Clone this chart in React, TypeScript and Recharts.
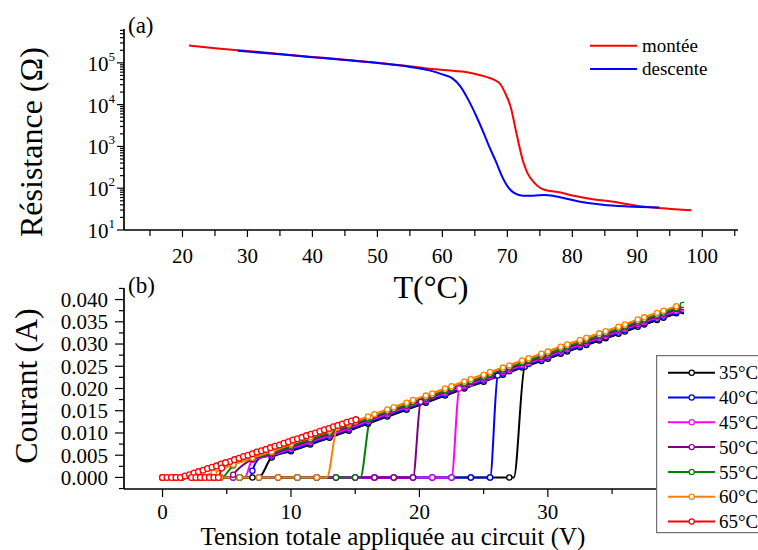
import { LineChart, Line, XAxis, YAxis, Legend } from 'recharts'

const SERIF = '"Liberation Serif", "Times New Roman", serif'
const serif = { fontFamily: SERIF }

// ---- (a) resistance vs temperature ----
const monteeT = [21, 25, 30, 35, 40, 45, 50, 55, 58, 62, 64, 66, 67, 68, 69, 69.6, 70.5, 71.5, 72.5, 73.1, 74.1, 75.7, 78.2, 80.2, 83.4, 86, 90.5, 94, 98.3]
const monteeR = [260000, 225000, 192000, 163000, 139000, 119000, 101000, 83000, 72000, 64000, 59000, 50000, 45000, 39000, 30000, 20000, 8900, 1750, 400, 230, 138, 92, 79, 66, 54, 48, 37, 33, 29.5]
const descenteT = [28.5, 35, 40, 45, 50, 55, 58, 60, 61.5, 62.8, 64, 65.3, 66.3, 67.2, 68.2, 69.2, 70.2, 71.1, 72.4, 74, 75.7, 77, 78.1, 80.8, 84.7, 88.5, 93.4]
const descenteR = [195000, 160000, 137000, 117000, 99000, 80000, 66000, 53000, 43000, 27000, 13000, 5000, 2200, 1000, 450, 190, 102, 76, 66, 66, 69, 66, 61, 49, 40, 36.5, 34.5]
const legendOrderA = ['montée', 'descente']

const tMajor = [20, 30, 40, 50, 60, 70, 80, 90, 100]
const tMinor = [15, 25, 35, 45, 55, 65, 75, 85, 95, 105]
const rMajor = [10, 100, 1000, 10000, 100000]
const rMinor = [20, 30, 40, 50, 60, 70, 80, 90, 200, 300, 400, 500, 600, 700, 800, 900, 2000, 3000, 4000, 5000, 6000, 7000, 8000, 9000, 20000, 30000, 40000, 50000, 60000, 70000, 80000, 90000, 200000, 300000, 400000, 500000, 600000]

// ---- (b) current vs applied voltage, up and down sweeps ----
// [V, I] points; a third value 0 marks a curve point that carries no marker
type Pt = number[]
const up35: Pt[] = [[0, 0], [1.5, 0], [3, 0], [4.5, 0], [6, 0], [7.5, 0], [9, 0], [10.5, 0], [12, 0], [13.5, 0], [15, 0], [16.5, 0], [18, 0], [19.5, 0], [21, 0], [22.5, 0], [24, 0], [25.5, 0], [27, 0], [27.35, 0, 0], [28.2, 0.0249], [30, 0.0267], [31.5, 0.0283], [33, 0.0298], [34.5, 0.0313], [36, 0.0328], [37.5, 0.0344], [39, 0.0359], [40.5, 0.0374]]
const down35: Pt[] = [[1, 0], [2.5, 0], [4, 0], [5.5, 0], [7, 0], [7.5, 0, 0], [8.5, 0.0045], [10, 0.0059], [11.5, 0.0074], [13, 0.0089], [14.5, 0.0105], [16, 0.0121], [17.5, 0.0137], [19, 0.0152], [20.5, 0.0168], [22, 0.0184], [23.5, 0.02], [25, 0.0215], [26.5, 0.0231], [28, 0.0247], [29.5, 0.0262], [31, 0.0278], [32.5, 0.0293], [34, 0.0308], [35.5, 0.0323], [37, 0.0339], [38.5, 0.0354], [40, 0.0369]]
const up40: Pt[] = [[0, 0], [1.5, 0], [3, 0], [4.5, 0], [6, 0], [7.5, 0], [9, 0], [10.5, 0], [12, 0], [13.5, 0], [15, 0], [16.5, 0], [18, 0], [19.5, 0], [21, 0], [22.5, 0], [24, 0], [25.5, 0], [26.1, 0.0229], [27, 0.0239], [28.5, 0.0255], [30, 0.027], [31.5, 0.0286], [33, 0.0301], [34.5, 0.0316], [36, 0.0331], [37.5, 0.0347], [39, 0.0362], [40.5, 0.0377]]
const down40: Pt[] = [[1, 0], [2.5, 0], [4, 0], [5.5, 0], [6.85, 0, 0], [7, 0.0015], [7.6, 0.0044, 0], [8.5, 0.0049], [10, 0.0062], [11.5, 0.0077], [13, 0.0092], [14.5, 0.0108], [16, 0.0124], [17.5, 0.014], [19, 0.0155], [20.5, 0.0171], [22, 0.0187], [23.5, 0.0203], [25, 0.0218], [26.5, 0.0234], [28, 0.025], [29.5, 0.0265], [31, 0.0281], [32.5, 0.0296], [34, 0.0311], [35.5, 0.0326], [37, 0.0342], [38.5, 0.0357], [40, 0.0372]]
const up45: Pt[] = [[0, 0], [1.5, 0], [3, 0], [4.5, 0], [6, 0], [7.5, 0], [9, 0], [10.5, 0], [12, 0], [13.5, 0], [15, 0], [16.5, 0], [18, 0], [19.5, 0], [21, 0], [22.5, 0], [23.1, 0.02], [24, 0.0211], [25.5, 0.0227], [27, 0.0242], [28.5, 0.0258], [30, 0.0273], [31.5, 0.0289], [33, 0.0304], [34.5, 0.0319], [36, 0.0334], [37.5, 0.035], [39, 0.0365], [40.5, 0.038]]
const down45: Pt[] = [[1, 0], [2.5, 0], [4, 0], [5.5, 0], [6.4, 0, 0], [7, 0.004], [8.5, 0.005], [10, 0.0065], [11.5, 0.008], [13, 0.0095], [14.5, 0.0111], [16, 0.0127], [17.5, 0.0143], [19, 0.0158], [20.5, 0.0174], [22, 0.019], [23.5, 0.0206], [25, 0.0221], [26.5, 0.0237], [28, 0.0253], [29.5, 0.0268], [31, 0.0284], [32.5, 0.0299], [34, 0.0314], [35.5, 0.0329], [37, 0.0345], [38.5, 0.036], [40, 0.0375]]
const up50: Pt[] = [[0, 0], [1.5, 0], [3, 0], [4.5, 0], [6, 0], [7.5, 0], [9, 0], [10.5, 0], [12, 0], [13.5, 0], [15, 0], [16.5, 0], [18, 0], [19.5, 0], [20.1, 0.017], [21, 0.0182], [22.5, 0.0198], [24, 0.0214], [25.5, 0.023], [27, 0.0245], [28.5, 0.0261], [30, 0.0276], [31.5, 0.0292], [33, 0.0307], [34.5, 0.0322], [36, 0.0337], [37.5, 0.0353], [39, 0.0368], [40.5, 0.0383]]
const down50: Pt[] = [[1, 0], [2.5, 0], [4, 0], [5.35, 0, 0], [5.5, 0.0006], [7, 0.0041], [8.5, 0.0052], [10, 0.0068], [11.5, 0.0083], [13, 0.0098], [14.5, 0.0114], [16, 0.013], [17.5, 0.0146], [19, 0.0161], [20.5, 0.0177], [22, 0.0193], [23.5, 0.0209], [25, 0.0224], [26.5, 0.024], [28, 0.0256], [29.5, 0.0271], [31, 0.0287], [32.5, 0.0302], [34, 0.0317], [35.5, 0.0332], [37, 0.0348], [38.5, 0.0363], [40, 0.0378]]
const up55: Pt[] = [[0, 0], [1.5, 0], [3, 0], [4.5, 0], [6, 0], [7.5, 0], [9, 0], [10.5, 0], [12, 0], [13.5, 0], [15, 0], [15.4, 0, 0], [16.2, 0.0135], [18, 0.0154], [19.5, 0.017], [21, 0.0185], [22.5, 0.0201], [24, 0.0217], [25.5, 0.0233], [27, 0.0248], [28.5, 0.0264], [30, 0.0279], [31.5, 0.0295], [33, 0.031], [34.5, 0.0325], [36, 0.034], [37.5, 0.0356], [39, 0.0371], [40.5, 0.0388]]
const down55: Pt[] = [[1, 0], [2.5, 0], [4, 0], [4.6, 0, 0], [5.5, 0.0027], [7, 0.0043], [8.5, 0.0055], [10, 0.0071], [11.5, 0.0086], [13, 0.0101], [14.5, 0.0117], [16, 0.0133], [17.5, 0.0149], [19, 0.0164], [20.5, 0.018], [22, 0.0196], [23.5, 0.0212], [25, 0.0227], [26.5, 0.0243], [28, 0.0259], [29.5, 0.0274], [31, 0.029], [32.5, 0.0305], [34, 0.032], [35.5, 0.0335], [37, 0.0351], [38.5, 0.0366], [40, 0.0381]]
const up60: Pt[] = [[0, 0], [1.5, 0], [3, 0], [4.5, 0], [6, 0], [7.5, 0], [9, 0], [10.5, 0], [12, 0], [12.8, 0, 0], [13.6, 0.0112], [15, 0.0126], [16.5, 0.0142], [18, 0.0158], [19.5, 0.0174], [21, 0.0189], [22.5, 0.0205], [24, 0.0221], [25.5, 0.0237], [27, 0.0252], [28.5, 0.0268], [30, 0.0283], [31.5, 0.0299], [33, 0.0314], [34.5, 0.0329], [36, 0.0344], [37.5, 0.036], [39, 0.0375]]
const down60: Pt[] = [[1, 0], [2.5, 0], [4, 0.0011], [5.5, 0.0029], [7, 0.0044], [8.5, 0.0058], [10, 0.0075], [11.5, 0.009], [13, 0.0105], [14.5, 0.0121], [16, 0.0137], [17.5, 0.0153], [19, 0.0168], [20.5, 0.0184], [22, 0.02], [23.5, 0.0216], [25, 0.0231], [26.5, 0.0247], [28, 0.0263], [29.5, 0.0278], [31, 0.0294], [32.5, 0.0309], [34, 0.0324], [35.5, 0.0339], [37, 0.0355], [38.5, 0.037], [40, 0.0385]]
const up65: Pt[] = [[2.25, 0], [2.6, 0], [2.95, 0], [3.3, 0], [3.65, 0], [4, 0], [4.35, 0], [4.6, 0.0021], [4.9, 0.0033]]
const down65: Pt[] = [[0, 0], [0.35, 0], [0.7, 0], [1.05, 0], [1.4, 0], [1.75, 0.0003], [2.1, 0.0006], [2.45, 0.001], [2.8, 0.0013], [3.15, 0.0016], [3.5, 0.002], [3.85, 0.0023], [4.2, 0.0026], [4.55, 0.003], [4.9, 0.0033], [5.25, 0.0036], [5.6, 0.004], [5.95, 0.0043], [6.3, 0.0047], [6.65, 0.005], [7, 0.0053], [7.35, 0.0057], [7.7, 0.006], [8.05, 0.0063], [8.4, 0.0067], [8.75, 0.007], [9.1, 0.0073], [9.45, 0.0077], [9.8, 0.008], [10.15, 0.0084], [10.5, 0.0087], [10.85, 0.009], [11.2, 0.0094], [11.55, 0.0097], [11.9, 0.01], [12.25, 0.0104], [12.6, 0.0107], [12.95, 0.011], [13.3, 0.0114], [13.65, 0.0117], [14, 0.012], [14.35, 0.0124], [14.7, 0.0127], [15.05, 0.013]]

const vMajor = [0, 10, 20, 30, 40]
const vMinor = [5, 15, 25, 35]
const iMajor = [0, 0.005, 0.01, 0.015, 0.02, 0.025, 0.03, 0.035, 0.04]
const iMinor = [-0.0025, 0.0025, 0.0075, 0.0125, 0.0175, 0.0225, 0.0275, 0.0325, 0.0375, 0.0425]

const seriesB = [
  { name: '35°C', color: '#000000', up: up35, down: down35 },
  { name: '40°C', color: '#0000ff', up: up40, down: down40 },
  { name: '45°C', color: '#ff00ff', up: up45, down: down45 },
  { name: '50°C', color: '#800080', up: up50, down: down50 },
  { name: '55°C', color: '#008000', up: up55, down: down55 },
  { name: '60°C', color: '#ff8000', up: up60, down: down60 },
  { name: '65°C', color: '#ff0000', up: up65, down: down65 },
]

const pts = (a: Pt[]) => a.map(([x, y, m]) => ({ x, y, m }))
const zip = (xs: number[], ys: number[]) => xs.map((x, i) => ({ x, y: ys[i] }))

const axisStyle = { stroke: '#000', strokeWidth: 1.7 }

const mkDot = (color: string, r: number) => (p: any) => {
  const k = `${p.index}-${p.cx}`
  if (p.payload && p.payload.m === 0) return <g key={k} />
  return <circle key={k} cx={p.cx} cy={p.cy} r={r} fill="#fff" stroke={color} strokeWidth={1.3} />
}

const logTick = (p: any) => {
  const v = p.payload.value
  const major = rMajor.includes(v)
  return (
    <g>
      <line x1={p.x} y1={p.y} x2={p.x - (major ? 7 : 4)} y2={p.y} stroke="#000" strokeWidth={1.2} />
      {major && (
        <text x={p.x - 9} y={p.y + 8} textAnchor="end" style={serif} fontSize={21} fill="#000">
          10<tspan dy={-10} fontSize={13}>{Math.round(Math.log10(v))}</tspan>
        </text>
      )}
    </g>
  )
}

const tTick = (p: any) => {
  const v = p.payload.value
  const major = tMajor.includes(v)
  return (
    <g>
      <line x1={p.x} y1={p.y} x2={p.x} y2={p.y + (major ? 7 : 6)} stroke="#000" strokeWidth={1.2} />
      {major && (
        <text x={p.x} y={p.y + 33} textAnchor="middle" style={serif} fontSize={21} fill="#000">{v}</text>
      )}
    </g>
  )
}

const vTick = (p: any) => {
  const v = p.payload.value
  const major = vMajor.includes(v)
  return (
    <g>
      <line x1={p.x} y1={p.y} x2={p.x} y2={p.y + (major ? 8 : 5)} stroke="#000" strokeWidth={1.2} />
      {major && (
        <text x={p.x} y={p.y + 30} textAnchor="middle" style={serif} fontSize={21} fill="#000">{v}</text>
      )}
    </g>
  )
}

const iTick = (p: any) => {
  const v = p.payload.value
  const major = iMajor.includes(v)
  return (
    <g>
      <line x1={p.x} y1={p.y} x2={p.x - (major ? 9 : 5)} y2={p.y} stroke="#000" strokeWidth={1.2} />
      {major && (
        <text x={p.x - 16} y={p.y} dy="0.35em" textAnchor="end" style={serif} fontSize={21} fill="#000">
          {v.toFixed(3)}
        </text>
      )}
    </g>
  )
}

function LegendA({ payload }: any) {
  const items = (payload || [])
    .filter((p: any) => p.type !== 'none')
    .sort((a: any, b: any) => legendOrderA.indexOf(a.value) - legendOrderA.indexOf(b.value))
  return (
    <svg width={150} height={50} style={{ display: 'block' }}>
      {items.map((p: any, i: number) => {
        const y = 12.7 + i * 23.3
        return (
          <g key={p.value}>
            <line x1={5} x2={52} y1={y} y2={y} stroke={p.color} strokeWidth={2} />
            <text x={57} y={y} dy="0.33em" style={serif} fontSize={19} fill="#000">{p.value}</text>
          </g>
        )
      })}
    </svg>
  )
}

function LegendB({ payload }: any) {
  const names = seriesB.map((s) => s.name)
  const items = (payload || [])
    .filter((p: any) => p.type !== 'none')
    .sort((a: any, b: any) => names.indexOf(a.value) - names.indexOf(b.value))
  return (
    <svg width={102} height={180} style={{ display: 'block' }}>
      <rect x={0.6} y={0.6} width={120} height={177} fill="#fff" stroke="#707070" strokeWidth={1.2} />
      {items.map((p: any, i: number) => {
        const y = 17.7 + i * 24.8
        return (
          <g key={p.value}>
            <line x1={12} x2={59} y1={y} y2={y} stroke={p.color} strokeWidth={2} />
            <circle cx={35.7} cy={y} r={2.6} fill="#fff" stroke={p.color} strokeWidth={1.2} />
            <text x={63} y={y} dy="0.35em" style={serif} fontSize={19} fill="#000">{p.value}</text>
          </g>
        )
      })}
    </svg>
  )
}

export default function App() {
  return (
    <div style={{ position: 'absolute', left: 0, top: 0, width: 758, height: 550, background: '#fff', overflow: 'hidden', fontFamily: SERIF }}>
      <div style={{ position: 'absolute', left: 0, top: 0 }}>
        <LineChart width={758} height={300} margin={{ top: 29, right: 20, bottom: 0, left: 0 }}>
          <XAxis type="number" dataKey="x" domain={[11, 105.5]} allowDataOverflow ticks={[...tMinor, ...tMajor]}
            interval={0} tickSize={0} tickMargin={0} tickLine={false} tick={tTick} axisLine={axisStyle} height={70} />
          <YAxis type="number" dataKey="y" scale="log" domain={[10, 646000]} allowDataOverflow ticks={[...rMinor, ...rMajor]}
            interval={0} tickSize={0} tickMargin={0} tickLine={false} tick={logTick} axisLine={axisStyle} width={124} />
          <Legend layout="vertical" align="center" verticalAlign="middle" content={<LegendA />}
            wrapperStyle={{ left: 585, top: 33, width: 150, height: 50 }} />
          <Line name="montée" data={zip(monteeT, monteeR)} dataKey="y" type="monotone" stroke="#ff0000" strokeWidth={2}
            dot={false} isAnimationActive={false} />
          <Line name="descente" data={zip(descenteT, descenteR)} dataKey="y" type="monotone" stroke="#0000ff" strokeWidth={2}
            dot={false} isAnimationActive={false} />
        </LineChart>
      </div>
      <div style={{ position: 'absolute', left: 0, top: 270 }}>
        <LineChart width={758} height={280} margin={{ top: 18, right: 74, bottom: 0, left: 0 }}>
          <XAxis type="number" dataKey="x" domain={[-3, 40.6]} allowDataOverflow ticks={[...vMinor, ...vMajor]}
            interval={0} tickSize={0} tickMargin={0} tickLine={false} tick={vTick} axisLine={axisStyle} height={61} />
          <YAxis type="number" dataKey="y" domain={[-0.0026, 0.0426]} allowDataOverflow ticks={[...iMinor, ...iMajor]}
            interval={0} tickSize={0} tickMargin={0} tickLine={false} tick={iTick} axisLine={axisStyle} width={124} />
          {seriesB.flatMap((s) => {
            const r = s.name === '65°C' ? 2.9 : 2.6
            return [
              <Line key={s.name + '-down'} name={s.name + ' descente'} legendType="none" data={pts(s.down)} dataKey="y"
                type="monotone" stroke={s.color} strokeWidth={2} dot={mkDot(s.color, r)} activeDot={false}
                isAnimationActive={false} />,
              <Line key={s.name + '-up'} name={s.name} data={pts(s.up)} dataKey="y"
                type="monotone" stroke={s.color} strokeWidth={2} dot={mkDot(s.color, r)} activeDot={false}
                isAnimationActive={false} />,
            ]
          })}
          <Legend layout="vertical" align="center" verticalAlign="middle" content={<LegendB />}
            wrapperStyle={{ left: 656, top: 85, width: 102, height: 180 }} />
        </LineChart>
      </div>
      <svg width={758} height={550} style={{ position: 'absolute', left: 0, top: 0, pointerEvents: 'none' }}>
        <g style={serif} fill="#000">
          <text x={128} y={33} fontSize={23}>(a)</text>
          <text x={128} y={293} fontSize={23}>(b)</text>
          <text transform="translate(42,142) rotate(-90)" textAnchor="middle" fontSize={32}>Résistance (Ω)</text>
          <text transform="translate(37,386) rotate(-90)" textAnchor="middle" fontSize={32}>Courant (A)</text>
          <text x={431} y={298} textAnchor="middle" fontSize={32}>T(°C)</text>
          <text x={393} y={545} textAnchor="middle" fontSize={25}>Tension totale appliquée au circuit (V)</text>
        </g>
      </svg>
    </div>
  )
}
